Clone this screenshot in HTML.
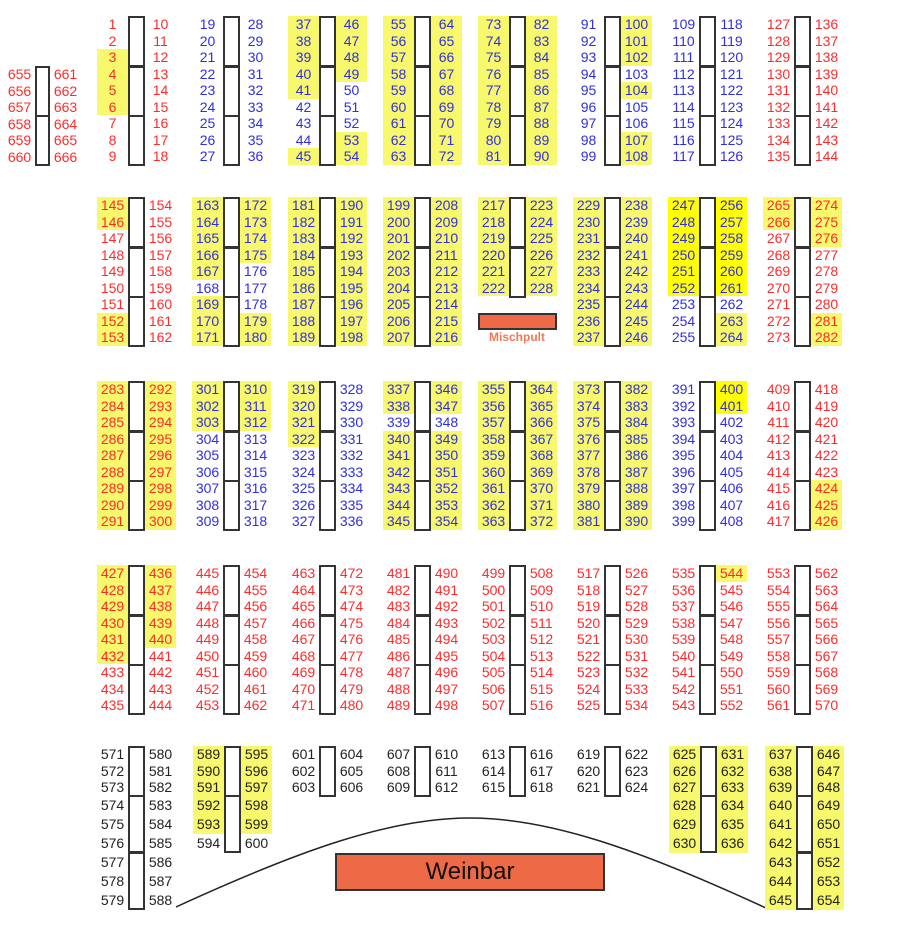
<!DOCTYPE html>
<html><head><meta charset="utf-8"><style>
body{margin:0;width:900px;height:941px;background:#fff;position:relative;overflow:hidden;font-family:"Liberation Sans",Arial,sans-serif;font-size:14px}
.c{position:absolute;width:31px}
.c i{display:block;font-style:normal;height:16.5px;line-height:16.5px;text-align:center}
.f i:nth-child(-n+3){height:16.67px;line-height:16.67px}
.f i:nth-child(n+4){height:19px;line-height:19px}
.r{color:#ff2b2b}.b{color:#2f2fe0}.k{color:#222}
.c i.h{background:#f8f86c}.c i.H{background:#ffff00}
.t{position:absolute;width:17px;height:51px;border:2px solid #333;box-sizing:border-box}
.u{height:58px}
</style></head><body>
<svg style="position:absolute;left:0;top:0" width="900" height="941"><path d="M176 907 C300 850 390 818 470 818 C550 818 640 850 766 908" fill="none" stroke="#222" stroke-width="1.5"/></svg>

<!-- Row 1 -->
<div class="t" style="left:35px;width:15px;top:66px"></div><div class="t" style="left:35px;width:15px;top:115px"></div>
<div class="c r" style="left:4px;top:66px"><i>655</i><i>656</i><i>657</i><i>658</i><i>659</i><i>660</i></div>
<div class="c r" style="left:50px;top:66px"><i>661</i><i>662</i><i>663</i><i>664</i><i>665</i><i>666</i></div>

<div class="t" style="left:128px;top:16px"></div><div class="t" style="left:128px;top:65.5px"></div><div class="t" style="left:128px;top:115px"></div>
<div class="c r" style="left:97px;top:16px"><i>1</i><i>2</i><i class="h">3</i><i class="h">4</i><i class="h">5</i><i class="h">6</i><i>7</i><i>8</i><i>9</i></div>
<div class="c r" style="left:145px;top:16px"><i>10</i><i>11</i><i>12</i><i>13</i><i>14</i><i>15</i><i>16</i><i>17</i><i>18</i></div>

<div class="t" style="left:223px;top:16px"></div><div class="t" style="left:223px;top:65.5px"></div><div class="t" style="left:223px;top:115px"></div>
<div class="c b" style="left:192px;top:16px"><i>19</i><i>20</i><i>21</i><i>22</i><i>23</i><i>24</i><i>25</i><i>26</i><i>27</i></div>
<div class="c b" style="left:240px;top:16px"><i>28</i><i>29</i><i>30</i><i>31</i><i>32</i><i>33</i><i>34</i><i>35</i><i>36</i></div>

<div class="t" style="left:319px;top:16px"></div><div class="t" style="left:319px;top:65.5px"></div><div class="t" style="left:319px;top:115px"></div>
<div class="c b" style="left:288px;top:16px"><i class="h">37</i><i class="h">38</i><i class="h">39</i><i class="h">40</i><i class="h">41</i><i>42</i><i>43</i><i>44</i><i class="h">45</i></div>
<div class="c b" style="left:336px;top:16px"><i class="h">46</i><i class="h">47</i><i class="h">48</i><i class="h">49</i><i>50</i><i>51</i><i>52</i><i class="h">53</i><i class="h">54</i></div>

<div class="t" style="left:414px;top:16px"></div><div class="t" style="left:414px;top:65.5px"></div><div class="t" style="left:414px;top:115px"></div>
<div class="c b" style="left:383px;top:16px"><i class="h">55</i><i class="h">56</i><i class="h">57</i><i class="h">58</i><i class="h">59</i><i class="h">60</i><i class="h">61</i><i class="h">62</i><i class="h">63</i></div>
<div class="c b" style="left:431px;top:16px"><i class="h">64</i><i class="h">65</i><i class="h">66</i><i class="h">67</i><i class="h">68</i><i class="h">69</i><i class="h">70</i><i class="h">71</i><i class="h">72</i></div>

<div class="t" style="left:509px;top:16px"></div><div class="t" style="left:509px;top:65.5px"></div><div class="t" style="left:509px;top:115px"></div>
<div class="c b" style="left:478px;top:16px"><i class="h">73</i><i class="h">74</i><i class="h">75</i><i class="h">76</i><i class="h">77</i><i class="h">78</i><i class="h">79</i><i class="h">80</i><i class="h">81</i></div>
<div class="c b" style="left:526px;top:16px"><i class="h">82</i><i class="h">83</i><i class="h">84</i><i class="h">85</i><i class="h">86</i><i class="h">87</i><i class="h">88</i><i class="h">89</i><i class="h">90</i></div>

<div class="t" style="left:604px;top:16px"></div><div class="t" style="left:604px;top:65.5px"></div><div class="t" style="left:604px;top:115px"></div>
<div class="c b" style="left:573px;top:16px"><i>91</i><i>92</i><i>93</i><i>94</i><i>95</i><i>96</i><i>97</i><i>98</i><i>99</i></div>
<div class="c b" style="left:621px;top:16px"><i class="h">100</i><i class="h">101</i><i class="h">102</i><i>103</i><i class="h">104</i><i>105</i><i>106</i><i class="h">107</i><i class="h">108</i></div>

<div class="t" style="left:699px;top:16px"></div><div class="t" style="left:699px;top:65.5px"></div><div class="t" style="left:699px;top:115px"></div>
<div class="c b" style="left:668px;top:16px"><i>109</i><i>110</i><i>111</i><i>112</i><i>113</i><i>114</i><i>115</i><i>116</i><i>117</i></div>
<div class="c b" style="left:716px;top:16px"><i>118</i><i>119</i><i>120</i><i>121</i><i>122</i><i>123</i><i>124</i><i>125</i><i>126</i></div>

<div class="t" style="left:794px;top:16px"></div><div class="t" style="left:794px;top:65.5px"></div><div class="t" style="left:794px;top:115px"></div>
<div class="c r" style="left:763px;top:16px"><i>127</i><i>128</i><i>129</i><i>130</i><i>131</i><i>132</i><i>133</i><i>134</i><i>135</i></div>
<div class="c r" style="left:811px;top:16px"><i>136</i><i>137</i><i>138</i><i>139</i><i>140</i><i>141</i><i>142</i><i>143</i><i>144</i></div>

<!-- Row 2 -->
<div class="t" style="left:128px;top:197px"></div><div class="t" style="left:128px;top:246.5px"></div><div class="t" style="left:128px;top:296px"></div>
<div class="c r" style="left:97px;top:197px"><i class="h">145</i><i class="h">146</i><i>147</i><i>148</i><i>149</i><i>150</i><i>151</i><i class="h">152</i><i class="h">153</i></div>
<div class="c r" style="left:145px;top:197px"><i>154</i><i>155</i><i>156</i><i>157</i><i>158</i><i>159</i><i>160</i><i>161</i><i>162</i></div>

<div class="t" style="left:223px;top:197px"></div><div class="t" style="left:223px;top:246.5px"></div><div class="t" style="left:223px;top:296px"></div>
<div class="c b" style="left:192px;top:197px"><i class="h">163</i><i class="h">164</i><i class="h">165</i><i class="h">166</i><i class="h">167</i><i>168</i><i class="h">169</i><i class="h">170</i><i class="h">171</i></div>
<div class="c b" style="left:240px;top:197px"><i class="h">172</i><i class="h">173</i><i class="h">174</i><i class="h">175</i><i>176</i><i>177</i><i>178</i><i class="h">179</i><i class="h">180</i></div>

<div class="t" style="left:319px;top:197px"></div><div class="t" style="left:319px;top:246.5px"></div><div class="t" style="left:319px;top:296px"></div>
<div class="c b" style="left:288px;top:197px"><i class="h">181</i><i class="h">182</i><i class="h">183</i><i class="h">184</i><i class="h">185</i><i class="h">186</i><i class="h">187</i><i class="h">188</i><i class="h">189</i></div>
<div class="c b" style="left:336px;top:197px"><i class="h">190</i><i class="h">191</i><i class="h">192</i><i class="h">193</i><i class="h">194</i><i class="h">195</i><i class="h">196</i><i class="h">197</i><i class="h">198</i></div>

<div class="t" style="left:414px;top:197px"></div><div class="t" style="left:414px;top:246.5px"></div><div class="t" style="left:414px;top:296px"></div>
<div class="c b" style="left:383px;top:197px"><i class="h">199</i><i class="h">200</i><i class="h">201</i><i class="h">202</i><i class="h">203</i><i class="h">204</i><i class="h">205</i><i class="h">206</i><i class="h">207</i></div>
<div class="c b" style="left:431px;top:197px"><i class="h">208</i><i class="h">209</i><i class="h">210</i><i class="h">211</i><i class="h">212</i><i class="h">213</i><i class="h">214</i><i class="h">215</i><i class="h">216</i></div>

<div class="t" style="left:509px;top:197px"></div><div class="t" style="left:509px;top:246.5px"></div>
<div class="c b" style="left:478px;top:197px"><i class="h">217</i><i class="h">218</i><i class="h">219</i><i class="h">220</i><i class="h">221</i><i class="h">222</i></div>
<div class="c b" style="left:526px;top:197px"><i class="h">223</i><i class="h">224</i><i class="h">225</i><i class="h">226</i><i class="h">227</i><i class="h">228</i></div>
<div style="position:absolute;left:478px;top:313px;width:79px;height:17px;background:#ee6a46;border:2px solid #333;box-sizing:border-box"></div>
<div style="position:absolute;left:467px;top:330px;width:100px;text-align:center;font-size:12px;font-weight:bold;color:#f07858">Mischpult</div>

<div class="t" style="left:604px;top:197px"></div><div class="t" style="left:604px;top:246.5px"></div><div class="t" style="left:604px;top:296px"></div>
<div class="c b" style="left:573px;top:197px"><i class="h">229</i><i class="h">230</i><i class="h">231</i><i class="h">232</i><i class="h">233</i><i class="h">234</i><i class="h">235</i><i class="h">236</i><i class="h">237</i></div>
<div class="c b" style="left:621px;top:197px"><i class="h">238</i><i class="h">239</i><i class="h">240</i><i class="h">241</i><i class="h">242</i><i class="h">243</i><i class="h">244</i><i class="h">245</i><i class="h">246</i></div>

<div class="t" style="left:699px;top:197px"></div><div class="t" style="left:699px;top:246.5px"></div><div class="t" style="left:699px;top:296px"></div>
<div class="c b" style="left:668px;top:197px"><i class="H">247</i><i class="H">248</i><i class="H">249</i><i class="H">250</i><i class="H">251</i><i class="H">252</i><i>253</i><i>254</i><i>255</i></div>
<div class="c b" style="left:716px;top:197px"><i class="H">256</i><i class="H">257</i><i class="H">258</i><i class="H">259</i><i class="H">260</i><i class="H">261</i><i>262</i><i class="h">263</i><i class="h">264</i></div>

<div class="t" style="left:794px;top:197px"></div><div class="t" style="left:794px;top:246.5px"></div><div class="t" style="left:794px;top:296px"></div>
<div class="c r" style="left:763px;top:197px"><i class="h">265</i><i class="h">266</i><i>267</i><i>268</i><i>269</i><i>270</i><i>271</i><i>272</i><i>273</i></div>
<div class="c r" style="left:811px;top:197px"><i class="h">274</i><i class="h">275</i><i class="h">276</i><i>277</i><i>278</i><i>279</i><i>280</i><i class="h">281</i><i class="h">282</i></div>

<!-- Row 3 -->
<div class="t" style="left:128px;top:381px"></div><div class="t" style="left:128px;top:430.5px"></div><div class="t" style="left:128px;top:480px"></div>
<div class="c r" style="left:97px;top:381px"><i class="h">283</i><i class="h">284</i><i class="h">285</i><i class="h">286</i><i class="h">287</i><i class="h">288</i><i class="h">289</i><i class="h">290</i><i class="h">291</i></div>
<div class="c r" style="left:145px;top:381px"><i class="h">292</i><i class="h">293</i><i class="h">294</i><i class="h">295</i><i class="h">296</i><i class="h">297</i><i class="h">298</i><i class="h">299</i><i class="h">300</i></div>

<div class="t" style="left:223px;top:381px"></div><div class="t" style="left:223px;top:430.5px"></div><div class="t" style="left:223px;top:480px"></div>
<div class="c b" style="left:192px;top:381px"><i class="h">301</i><i class="h">302</i><i class="h">303</i><i>304</i><i>305</i><i>306</i><i>307</i><i>308</i><i>309</i></div>
<div class="c b" style="left:240px;top:381px"><i class="h">310</i><i class="h">311</i><i class="h">312</i><i>313</i><i>314</i><i>315</i><i>316</i><i>317</i><i>318</i></div>

<div class="t" style="left:319px;top:381px"></div><div class="t" style="left:319px;top:430.5px"></div><div class="t" style="left:319px;top:480px"></div>
<div class="c b" style="left:288px;top:381px"><i class="h">319</i><i class="h">320</i><i class="h">321</i><i class="h">322</i><i>323</i><i>324</i><i>325</i><i>326</i><i>327</i></div>
<div class="c b" style="left:336px;top:381px"><i>328</i><i>329</i><i>330</i><i>331</i><i>332</i><i>333</i><i>334</i><i>335</i><i>336</i></div>

<div class="t" style="left:414px;top:381px"></div><div class="t" style="left:414px;top:430.5px"></div><div class="t" style="left:414px;top:480px"></div>
<div class="c b" style="left:383px;top:381px"><i class="h">337</i><i class="h">338</i><i>339</i><i class="h">340</i><i class="h">341</i><i class="h">342</i><i class="h">343</i><i class="h">344</i><i class="h">345</i></div>
<div class="c b" style="left:431px;top:381px"><i class="h">346</i><i class="h">347</i><i>348</i><i class="h">349</i><i class="h">350</i><i class="h">351</i><i class="h">352</i><i class="h">353</i><i class="h">354</i></div>

<div class="t" style="left:509px;top:381px"></div><div class="t" style="left:509px;top:430.5px"></div><div class="t" style="left:509px;top:480px"></div>
<div class="c b" style="left:478px;top:381px"><i class="h">355</i><i class="h">356</i><i class="h">357</i><i class="h">358</i><i class="h">359</i><i class="h">360</i><i class="h">361</i><i class="h">362</i><i class="h">363</i></div>
<div class="c b" style="left:526px;top:381px"><i class="h">364</i><i class="h">365</i><i class="h">366</i><i class="h">367</i><i class="h">368</i><i class="h">369</i><i class="h">370</i><i class="h">371</i><i class="h">372</i></div>

<div class="t" style="left:604px;top:381px"></div><div class="t" style="left:604px;top:430.5px"></div><div class="t" style="left:604px;top:480px"></div>
<div class="c b" style="left:573px;top:381px"><i class="h">373</i><i class="h">374</i><i class="h">375</i><i class="h">376</i><i class="h">377</i><i class="h">378</i><i class="h">379</i><i class="h">380</i><i class="h">381</i></div>
<div class="c b" style="left:621px;top:381px"><i class="h">382</i><i class="h">383</i><i class="h">384</i><i class="h">385</i><i class="h">386</i><i class="h">387</i><i class="h">388</i><i class="h">389</i><i class="h">390</i></div>

<div class="t" style="left:699px;top:381px"></div><div class="t" style="left:699px;top:430.5px"></div><div class="t" style="left:699px;top:480px"></div>
<div class="c b" style="left:668px;top:381px"><i>391</i><i>392</i><i>393</i><i>394</i><i>395</i><i>396</i><i>397</i><i>398</i><i>399</i></div>
<div class="c b" style="left:716px;top:381px"><i class="H">400</i><i class="H">401</i><i>402</i><i>403</i><i>404</i><i>405</i><i>406</i><i>407</i><i>408</i></div>

<div class="t" style="left:794px;top:381px"></div><div class="t" style="left:794px;top:430.5px"></div><div class="t" style="left:794px;top:480px"></div>
<div class="c r" style="left:763px;top:381px"><i>409</i><i>410</i><i>411</i><i>412</i><i>413</i><i>414</i><i>415</i><i>416</i><i>417</i></div>
<div class="c r" style="left:811px;top:381px"><i>418</i><i>419</i><i>420</i><i>421</i><i>422</i><i>423</i><i class="h">424</i><i class="h">425</i><i class="h">426</i></div>

<!-- Row 4 -->
<div class="t" style="left:128px;top:565px"></div><div class="t" style="left:128px;top:614.5px"></div><div class="t" style="left:128px;top:664px"></div>
<div class="c r" style="left:97px;top:565px"><i class="h">427</i><i class="h">428</i><i class="h">429</i><i class="h">430</i><i class="h">431</i><i class="h">432</i><i>433</i><i>434</i><i>435</i></div>
<div class="c r" style="left:145px;top:565px"><i class="h">436</i><i class="h">437</i><i class="h">438</i><i class="h">439</i><i class="h">440</i><i>441</i><i>442</i><i>443</i><i>444</i></div>

<div class="t" style="left:223px;top:565px"></div><div class="t" style="left:223px;top:614.5px"></div><div class="t" style="left:223px;top:664px"></div>
<div class="c r" style="left:192px;top:565px"><i>445</i><i>446</i><i>447</i><i>448</i><i>449</i><i>450</i><i>451</i><i>452</i><i>453</i></div>
<div class="c r" style="left:240px;top:565px"><i>454</i><i>455</i><i>456</i><i>457</i><i>458</i><i>459</i><i>460</i><i>461</i><i>462</i></div>

<div class="t" style="left:319px;top:565px"></div><div class="t" style="left:319px;top:614.5px"></div><div class="t" style="left:319px;top:664px"></div>
<div class="c r" style="left:288px;top:565px"><i>463</i><i>464</i><i>465</i><i>466</i><i>467</i><i>468</i><i>469</i><i>470</i><i>471</i></div>
<div class="c r" style="left:336px;top:565px"><i>472</i><i>473</i><i>474</i><i>475</i><i>476</i><i>477</i><i>478</i><i>479</i><i>480</i></div>

<div class="t" style="left:414px;top:565px"></div><div class="t" style="left:414px;top:614.5px"></div><div class="t" style="left:414px;top:664px"></div>
<div class="c r" style="left:383px;top:565px"><i>481</i><i>482</i><i>483</i><i>484</i><i>485</i><i>486</i><i>487</i><i>488</i><i>489</i></div>
<div class="c r" style="left:431px;top:565px"><i>490</i><i>491</i><i>492</i><i>493</i><i>494</i><i>495</i><i>496</i><i>497</i><i>498</i></div>

<div class="t" style="left:509px;top:565px"></div><div class="t" style="left:509px;top:614.5px"></div><div class="t" style="left:509px;top:664px"></div>
<div class="c r" style="left:478px;top:565px"><i>499</i><i>500</i><i>501</i><i>502</i><i>503</i><i>504</i><i>505</i><i>506</i><i>507</i></div>
<div class="c r" style="left:526px;top:565px"><i>508</i><i>509</i><i>510</i><i>511</i><i>512</i><i>513</i><i>514</i><i>515</i><i>516</i></div>

<div class="t" style="left:604px;top:565px"></div><div class="t" style="left:604px;top:614.5px"></div><div class="t" style="left:604px;top:664px"></div>
<div class="c r" style="left:573px;top:565px"><i>517</i><i>518</i><i>519</i><i>520</i><i>521</i><i>522</i><i>523</i><i>524</i><i>525</i></div>
<div class="c r" style="left:621px;top:565px"><i>526</i><i>527</i><i>528</i><i>529</i><i>530</i><i>531</i><i>532</i><i>533</i><i>534</i></div>

<div class="t" style="left:699px;top:565px"></div><div class="t" style="left:699px;top:614.5px"></div><div class="t" style="left:699px;top:664px"></div>
<div class="c r" style="left:668px;top:565px"><i>535</i><i>536</i><i>537</i><i>538</i><i>539</i><i>540</i><i>541</i><i>542</i><i>543</i></div>
<div class="c r" style="left:716px;top:565px"><i class="h">544</i><i>545</i><i>546</i><i>547</i><i>548</i><i>549</i><i>550</i><i>551</i><i>552</i></div>

<div class="t" style="left:794px;top:565px"></div><div class="t" style="left:794px;top:614.5px"></div><div class="t" style="left:794px;top:664px"></div>
<div class="c r" style="left:763px;top:565px"><i>553</i><i>554</i><i>555</i><i>556</i><i>557</i><i>558</i><i>559</i><i>560</i><i>561</i></div>
<div class="c r" style="left:811px;top:565px"><i>562</i><i>563</i><i>564</i><i>565</i><i>566</i><i>567</i><i>568</i><i>569</i><i>570</i></div>

<!-- Row 5 -->
<div class="t" style="left:128px;top:746px"></div><div class="t u" style="left:128px;top:795px"></div><div class="t u" style="left:128px;top:852px"></div>
<div class="c f k" style="left:97px;top:746px"><i>571</i><i>572</i><i>573</i><i>574</i><i>575</i><i>576</i><i>577</i><i>578</i><i>579</i></div>
<div class="c f k" style="left:145px;top:746px"><i>580</i><i>581</i><i>582</i><i>583</i><i>584</i><i>585</i><i>586</i><i>587</i><i>588</i></div>

<div class="t" style="left:224px;top:746px"></div><div class="t u" style="left:224px;top:795px"></div>
<div class="c f k" style="left:193px;top:746px"><i class="h">589</i><i class="h">590</i><i class="h">591</i><i class="h">592</i><i class="h">593</i><i>594</i></div>
<div class="c f k" style="left:241px;top:746px"><i class="h">595</i><i class="h">596</i><i class="h">597</i><i class="h">598</i><i class="h">599</i><i>600</i></div>

<div class="t" style="left:319px;top:746px"></div>
<div class="c f k" style="left:288px;top:746px"><i>601</i><i>602</i><i>603</i></div>
<div class="c f k" style="left:336px;top:746px"><i>604</i><i>605</i><i>606</i></div>

<div class="t" style="left:414px;top:746px"></div>
<div class="c f k" style="left:383px;top:746px"><i>607</i><i>608</i><i>609</i></div>
<div class="c f k" style="left:431px;top:746px"><i>610</i><i>611</i><i>612</i></div>

<div class="t" style="left:509px;top:746px"></div>
<div class="c f k" style="left:478px;top:746px"><i>613</i><i>614</i><i>615</i></div>
<div class="c f k" style="left:526px;top:746px"><i>616</i><i>617</i><i>618</i></div>

<div class="t" style="left:604px;top:746px"></div>
<div class="c f k" style="left:573px;top:746px"><i>619</i><i>620</i><i>621</i></div>
<div class="c f k" style="left:621px;top:746px"><i>622</i><i>623</i><i>624</i></div>

<div class="t" style="left:700px;top:746px"></div><div class="t u" style="left:700px;top:795px"></div>
<div class="c f k" style="left:669px;top:746px"><i class="h">625</i><i class="h">626</i><i class="h">627</i><i class="h">628</i><i class="h">629</i><i class="h">630</i></div>
<div class="c f k" style="left:717px;top:746px"><i class="h">631</i><i class="h">632</i><i class="h">633</i><i class="h">634</i><i class="h">635</i><i class="h">636</i></div>

<div class="t" style="left:796px;top:746px"></div><div class="t u" style="left:796px;top:795px"></div><div class="t u" style="left:796px;top:852px"></div>
<div class="c f k" style="left:765px;top:746px"><i class="h">637</i><i class="h">638</i><i class="h">639</i><i class="h">640</i><i class="h">641</i><i class="h">642</i><i class="h">643</i><i class="h">644</i><i class="h">645</i></div>
<div class="c f k" style="left:813px;top:746px"><i class="h">646</i><i class="h">647</i><i class="h">648</i><i class="h">649</i><i class="h">650</i><i class="h">651</i><i class="h">652</i><i class="h">653</i><i class="h">654</i></div>

<div style="position:absolute;left:335px;top:853px;width:270px;height:38px;background:#ee6a46;border:2px solid #333;box-sizing:border-box;text-align:center;line-height:34px;font-size:24px;color:#111">Weinbar</div>
</body></html>
